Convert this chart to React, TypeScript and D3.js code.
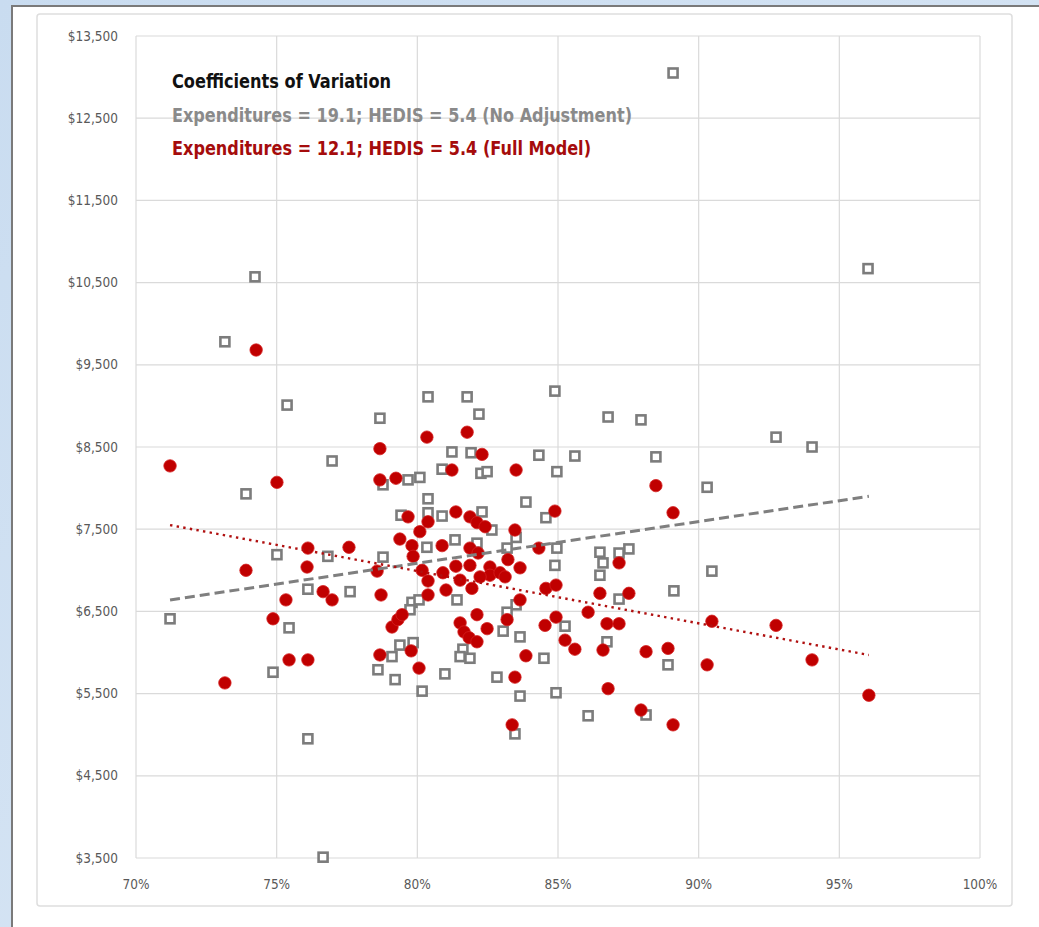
import React from 'react';
import * as d3 from 'd3';

// HEDIS rate (%) vs. expenditures ($), unadjusted (gray squares)
const noAdjX = [
  89.09, 96.02, 74.23, 73.16, 75.37, 84.89, 80.38, 81.77, 78.67, 82.19,
  86.78, 87.95, 92.75, 94.03, 88.48, 85.6, 84.32, 76.97, 81.23, 81.91,
  73.91, 90.3, 82.26, 82.48, 80.88, 80.09, 79.67, 78.78, 84.96, 83.86,
  80.38, 79.42, 80.38, 80.88, 82.3, 84.57, 82.65, 83.51, 81.34, 82.12,
  80.34, 83.19, 84.96, 86.49, 87.52, 87.17, 75.01, 76.82, 78.78, 84.89,
  86.6, 86.49, 90.47, 76.11, 77.61, 89.12, 87.17, 81.41, 79.81, 80.06,
  79.74, 83.51, 83.19, 71.21, 75.44, 83.05, 83.65, 85.25, 86.74, 79.38,
  79.85, 79.1, 81.62, 81.52, 81.87, 84.5, 78.6, 74.87, 79.21, 80.98,
  82.83, 88.91, 80.17, 83.65, 84.93, 86.07, 88.13, 76.11, 83.47, 76.65,
];
const noAdjY = [
  13050, 10670, 10570, 9780, 9010, 9180, 9110, 9110, 8850, 8900,
  8865, 8830, 8620, 8500, 8380, 8390, 8400, 8330, 8440, 8430,
  7930, 8010, 8180, 8200, 8230, 8130, 8100, 8040, 8200, 7830,
  7870, 7670, 7700, 7660, 7710, 7640, 7490, 7400, 7370, 7330,
  7280, 7270, 7270, 7220, 7260, 7210, 7190, 7170, 7160, 7060,
  7090, 6940, 6990, 6770, 6740, 6750, 6650, 6640, 6610, 6640,
  6520, 6580, 6490, 6410, 6300, 6260, 6190, 6320, 6130, 6090,
  6120, 5950, 6040, 5950, 5930, 5930, 5790, 5760, 5670, 5740,
  5700, 5850, 5530, 5470, 5510, 5230, 5240, 4950, 5010, 3510,
];

// same plans, full risk-adjustment model (red dots)
const fullX = [
  71.21, 74.27, 75.01, 73.91, 73.16, 76.11, 77.57, 76.08, 78.57, 76.65,
  76.97, 75.33, 78.71, 74.87, 75.44, 76.11, 78.67, 80.34, 81.77, 78.67,
  82.3, 78.67, 79.24, 81.23, 83.51, 84.89, 81.37, 81.87, 82.12, 82.41,
  79.67, 80.38, 80.09, 83.47, 79.38, 79.81, 80.88, 79.85, 84.32, 81.87,
  82.16, 83.22, 83.65, 80.17, 80.38, 80.91, 81.37, 81.87, 82.58, 82.58,
  82.94, 83.12, 81.52, 81.94, 81.02, 80.38, 84.57, 84.93, 83.65, 86.49,
  87.52, 86.07, 82.12, 83.19, 81.52, 81.66, 81.84, 82.12, 82.48, 79.1,
  79.31, 79.46, 84.54, 84.93, 86.74, 87.17, 85.25, 85.6, 86.6, 88.13,
  88.91, 79.78, 80.06, 83.86, 83.47, 86.78, 87.95, 83.37, 89.09, 88.48,
  89.09, 87.17, 90.47, 92.75, 90.3, 94.03, 96.05, 82.23,
];
const fullY = [
  8270, 9680, 8070, 7000, 5630, 7270, 7280, 7040, 6990, 6740,
  6640, 6640, 6700, 6410, 5910, 5910, 5970, 8620, 8680, 8480,
  8410, 8100, 8120, 8220, 8220, 7720, 7710, 7650, 7580, 7530,
  7650, 7590, 7470, 7490, 7380, 7300, 7300, 7170, 7270, 7270,
  7210, 7130, 7030, 7000, 6870, 6970, 7050, 7060, 7040, 6940,
  6970, 6920, 6880, 6780, 6760, 6700, 6780, 6820, 6640, 6720,
  6720, 6490, 6460, 6400, 6360, 6250, 6180, 6130, 6290, 6310,
  6400, 6460, 6330, 6430, 6350, 6350, 6150, 6040, 6030, 6010,
  6050, 6020, 5810, 5960, 5700, 5560, 5300, 5120, 5120, 8030,
  7700, 7090, 6380, 6330, 5850, 5910, 5480, 6920,
];

// linear trend endpoints [x, y]
const noAdjTrend: [number, number][] = [[71.21, 6640], [96.05, 7900]];
const fullTrend: [number, number][] = [[71.21, 7550], [96.05, 5970]];

const xTicks = [70, 75, 80, 85, 90, 95, 100];
const yTicks = [3500, 4500, 5500, 6500, 7500, 8500, 9500, 10500, 11500, 12500, 13500];

const legendLines = [
  { text: 'Coefficients of Variation', color: '#111111', len: 219 },
  { text: 'Expenditures = 19.1; HEDIS = 5.4 (No Adjustment)', color: '#8a8a8a', len: 460 },
  { text: 'Expenditures = 12.1; HEDIS = 5.4 (Full Model)', color: '#a50c0c', len: 419 },
];

const W = 1039;
const H = 927;
const FONT = "'Liberation Sans Narrow', 'DejaVu Sans Condensed', 'Open Sans', sans-serif";

export default function App() {
  const x = d3.scaleLinear().domain([70, 100]).range([136, 980]);
  const y = d3.scaleLinear().domain([3500, 13500]).range([858, 36]);
  const line = d3.line<[number, number]>().x(d => x(d[0])).y(d => y(d[1]));
  const money = d3.format('$,');

  return (
    <svg width={W} height={H} style={{ position: 'absolute', left: 0, top: 0 }} fontFamily={FONT}>
      <defs>
        <linearGradient id="bg" x1="0" y1="0" x2="1" y2="1">
          <stop offset="0" stopColor="#c9dcf0" />
          <stop offset="1" stopColor="#dde9f6" />
        </linearGradient>
      </defs>
      <rect width={W} height={H} fill="url(#bg)" />
      {/* slide frame */}
      <rect x={12} y={6} width={W} height={H} fill="#ffffff" stroke="#7a7a7a" strokeWidth={2} />
      {/* chart area */}
      <rect x={37} y={14} width={975} height={892} rx={3} fill="#ffffff" stroke="#dedede" strokeWidth={1.5} />

      {/* grid */}
      <g stroke="#dadada" strokeWidth={1.2}>
        {yTicks.map(t => (
          <line key={'gy' + t} x1={x(70)} x2={x(100)} y1={y(t)} y2={y(t)} />
        ))}
        {xTicks.map(t => (
          <line key={'gx' + t} x1={x(t)} x2={x(t)} y1={y(13500)} y2={y(3500)} />
        ))}
      </g>

      {/* axis labels */}
      <g fill="#595959" fontSize={13.5}>
        {yTicks.map(t => (
          <text key={'ty' + t} x={118} y={y(t) + 4.5} textAnchor="end">{money(t)}</text>
        ))}
        {xTicks.map(t => (
          <text key={'tx' + t} x={x(t)} y={889} textAnchor="middle">{t + '%'}</text>
        ))}
      </g>

      {/* unadjusted series */}
      <g fill="#ffffff" stroke="#7c7c7c" strokeWidth={2.6}>
        {noAdjX.map((v, i) => (
          <rect key={'s' + i} x={x(v) - 4.5} y={y(noAdjY[i]) - 4.5} width={9} height={9} />
        ))}
      </g>

      {/* full model series */}
      <g fill="#c00000" stroke="#d42020" strokeWidth={0.8}>
        {fullX.map((v, i) => (
          <circle key={'c' + i} cx={x(v)} cy={y(fullY[i])} r={6.2} />
        ))}
      </g>

      {/* trendlines */}
      <path d={line(noAdjTrend) || ''} fill="none" stroke="#7f7f7f" strokeWidth={3} strokeDasharray="10,5" />
      <path d={line(fullTrend) || ''} fill="none" stroke="#b01010" strokeWidth={2.4} strokeDasharray="2.4,4.3" />

      {/* legend block */}
      {legendLines.map((l, i) => (
        <text
          key={'lg' + i}
          x={172}
          y={88 + i * 33.5}
          fill={l.color}
          fontSize={19}
          fontWeight="bold"
          textLength={l.len}
          lengthAdjust="spacingAndGlyphs"
        >
          {l.text}
        </text>
      ))}
    </svg>
  );
}
